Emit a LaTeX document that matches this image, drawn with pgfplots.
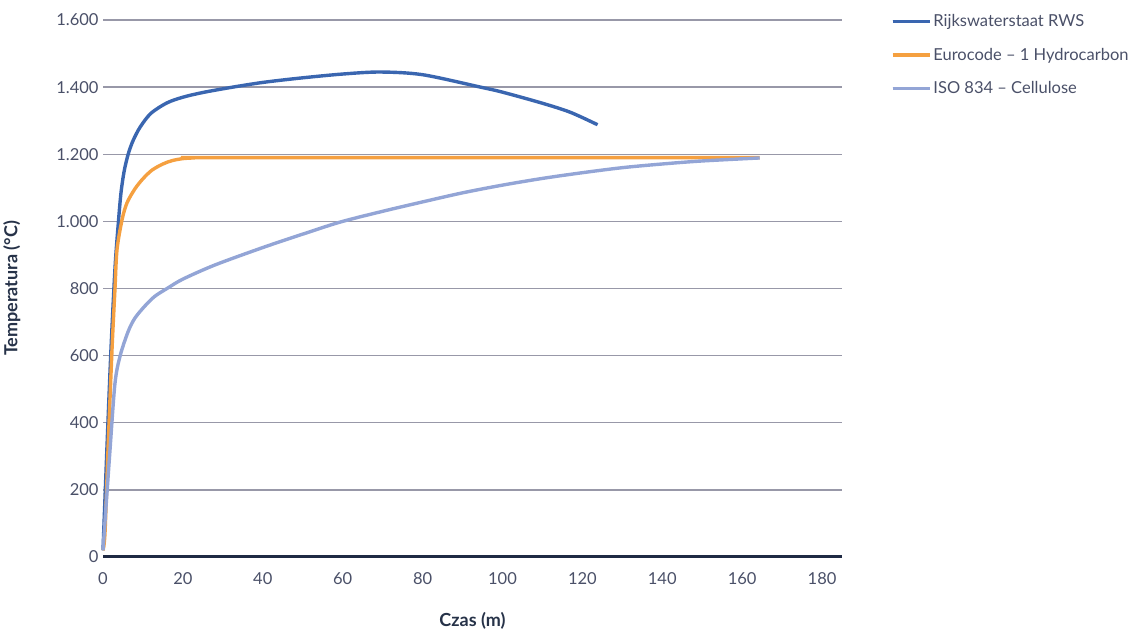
\documentclass[border=0pt]{standalone}
\usepackage{pgfplots}
\pgfplotsset{compat=1.18}
\usepackage{fontspec}
\setmainfont{Lato}
\definecolor{rws}{HTML}{3A66B0}
\definecolor{euro}{HTML}{F5A040}
\definecolor{iso}{HTML}{93A5D6}
\definecolor{gridc}{HTML}{9898A8}
\definecolor{axisc}{HTML}{1F2A44}
\definecolor{tickc}{HTML}{4A5068}
\definecolor{labc}{HTML}{263248}
\begin{document}
\begin{tikzpicture}
\begin{axis}[
  name=ax,
  scale only axis,
  width=739pt, height=537pt,
  xmin=0, xmax=185, ymin=0, ymax=1600,
  xtick={0,20,...,180},
  ytick={0,200,...,1600},
  axis line style={draw=none},
  ymajorgrids=true,
  grid style={gridc, line width=1.3pt},
  major tick length=0pt,
  tick label style={font=\fontsize{16.5}{18}\selectfont, text=tickc},
  /pgf/number format/assume math mode=true,
  /pgf/number format/1000 sep={.},
  yticklabel style={xshift=-1pt},
  xticklabel style={yshift=-12pt},
  xlabel={\textbf{Czas (m)}},
  ylabel={\textbf{Temperatura (°C)}},
  label style={font=\fontsize{18}{20}\selectfont, text=labc},
  xlabel style={at={(0.5,0)}, anchor=north, yshift=-52pt},
  ylabel style={at={(0,0.5)}, anchor=south, xshift=0pt, yshift=79pt},
  legend style={at={(1.062,1.018)}, anchor=north west, draw=none, fill=none,
    font=\fontsize{16.5}{18}\selectfont, text=tickc, row sep=16pt,
    legend cell align=left},
  legend image code/.code={\draw[#1, line width=3pt] (0pt,0pt) -- (25pt,0pt); \path (0pt,0pt) -- (37pt,0pt);},
  clip=false,
]
\addplot[rws, line width=3.4pt, smooth, tension=0.5] coordinates {
 (0,20) (1,330) (2,620) (3,860) (3.8,990) (4.5,1085) (5.3,1150) (6.3,1200)
 (7.5,1240) (9.3,1281) (12,1322) (16,1353) (20,1370) (25,1384) (32,1399) (40,1414)
 (49.4,1427) (60,1439) (69.4,1445) (80,1437) (94.5,1400) (100,1385)
 (110,1352) (117,1325) (123.8,1288)};
\addlegendentry{Rijkswaterstaat RWS}
\addplot[euro, line width=3.4pt, smooth, tension=0.5] coordinates {
 (0,20) (0.5,72) (1.25,319) (2.25,617) (3,800) (3.5,915) (4.75,1004)
 (6,1055) (8,1097) (10,1127) (12.3,1153) (15,1171) (17.3,1181) (20,1187)
 (23,1189) (30,1190) (164.4,1190)};
\addlegendentry{Eurocode – 1 Hydrocarbon}
\addplot[iso, line width=3.4pt, smooth, tension=0.5] coordinates {
 (0,20) (1.75,319) (3,518) (4.3,600) (6.3,672) (8,712) (10.5,748)
 (13,777) (16.3,802) (20,828) (28,870) (40,922) (50,962) (59.4,998)
 (70,1030) (80,1058) (90,1085) (100,1108) (110,1128) (120,1145)
 (130,1160) (140,1171) (150,1180) (164.4,1189)};
\addlegendentry{ISO 834 – Cellulose}
\draw[axisc, line width=3pt] (axis cs:0,0) -- (axis cs:185,0);
\end{axis}
\path (ax.south west) ++(-103pt,-72pt) rectangle ++(1138pt,629pt);
\end{tikzpicture}
\end{document}
